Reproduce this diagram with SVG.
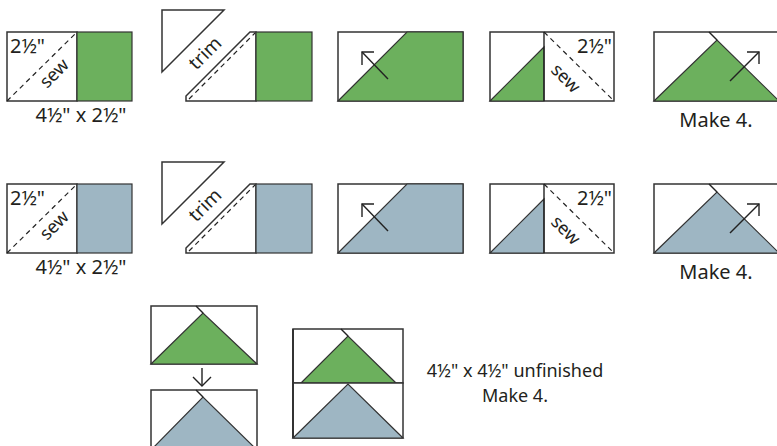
<svg xmlns="http://www.w3.org/2000/svg" width="777" height="446" viewBox="0 0 777 446">
<style>
.o{fill:#fff;stroke:#333;stroke-width:1.5}
.g{fill:#6cb05d;stroke:#333;stroke-width:1.2}
.b{fill:#9eb6c3;stroke:#333;stroke-width:1.2}
.ln{fill:none;stroke:#222;stroke-width:1.4}
.d{fill:none;stroke:#222;stroke-width:1.2;stroke-dasharray:5 4}
.t{font-family:"Noto Sans","Liberation Sans",Arial,sans-serif;fill:#231f20}
</style>
<rect width="777" height="446" fill="#fff"/>

<!-- ROW 1 (green) -->
<g id="r1-step1">
<rect class="o" x="7" y="32" width="70" height="69"/>
<rect class="g" x="77" y="32" width="55" height="69"/>
<line class="d" x1="7" y1="101" x2="77" y2="32"/>
<text class="t" x="10" y="53" font-size="20">2½"</text>
<text class="t" font-size="18" text-anchor="middle" transform="translate(55,74) rotate(-45)" y="5">sew</text>
<text class="t" x="81" y="122" font-size="20" text-anchor="middle">4½" x 2½"</text>
</g>
<g id="r1-step2">
<polygon class="o" points="162,10 224,10 162,72"/>
<text class="t" font-size="19" text-anchor="middle" transform="translate(206,54) rotate(-45)" y="5">trim</text>
<polygon class="o" points="186,101 186,96 250,32 256,32 256,101"/>
<line class="d" x1="189" y1="99" x2="255" y2="33"/>
<rect class="g" x="256" y="32" width="56" height="69"/>
</g>
<g id="r1-step3">
<rect class="o" x="338" y="32" width="125" height="69"/>
<polygon class="g" points="338,101 407,32 463,32 463,101"/>
<line class="ln" x1="388" y1="79" x2="362" y2="52"/>
<polyline class="ln" points="374,52 362,52 362,65"/>
</g>
<g id="r1-step4">
<rect class="o" x="490" y="32" width="124" height="69"/>
<polygon class="g" points="490,101 544,101 544,47"/>
<line class="ln" x1="544" y1="32" x2="544" y2="101"/>
<line class="d" x1="544" y1="32" x2="614" y2="101"/>
<text class="t" x="612" y="53" font-size="20" text-anchor="end">2½"</text>
<text class="t" font-size="18" text-anchor="middle" transform="translate(565,79) rotate(45)" y="5">sew</text>
</g>
<g id="r1-step5">
<rect class="o" x="654" y="32" width="125" height="69"/>
<polygon class="g" points="654,101 717,40 779,101"/>
<line class="ln" x1="709" y1="32" x2="717" y2="40"/>
<line class="ln" x1="730" y1="81" x2="759" y2="52"/>
<polyline class="ln" points="747,52 759,52 759,64"/>
<text class="t" x="716" y="127" font-size="20" text-anchor="middle">Make 4.</text>
</g>

<!-- ROW 2 (blue) -->
<g id="r2-step1">
<rect class="o" x="7" y="184" width="70" height="69"/>
<rect class="b" x="77" y="184" width="55" height="69"/>
<line class="d" x1="7" y1="253" x2="77" y2="184"/>
<text class="t" x="10" y="205" font-size="20">2½"</text>
<text class="t" font-size="18" text-anchor="middle" transform="translate(55,226) rotate(-45)" y="5">sew</text>
<text class="t" x="81" y="274" font-size="20" text-anchor="middle">4½" x 2½"</text>
</g>
<g id="r2-step2">
<polygon class="o" points="162,162 224,162 162,224"/>
<text class="t" font-size="19" text-anchor="middle" transform="translate(206,206) rotate(-45)" y="5">trim</text>
<polygon class="o" points="186,253 186,248 250,184 256,184 256,253"/>
<line class="d" x1="189" y1="251" x2="255" y2="185"/>
<rect class="b" x="256" y="184" width="56" height="69"/>
</g>
<g id="r2-step3">
<rect class="o" x="338" y="184" width="125" height="69"/>
<polygon class="b" points="338,253 407,184 463,184 463,253"/>
<line class="ln" x1="388" y1="231" x2="362" y2="204"/>
<polyline class="ln" points="374,204 362,204 362,217"/>
</g>
<g id="r2-step4">
<rect class="o" x="490" y="184" width="124" height="69"/>
<polygon class="b" points="490,253 544,253 544,199"/>
<line class="ln" x1="544" y1="184" x2="544" y2="253"/>
<line class="d" x1="544" y1="184" x2="614" y2="253"/>
<text class="t" x="612" y="205" font-size="20" text-anchor="end">2½"</text>
<text class="t" font-size="18" text-anchor="middle" transform="translate(565,231) rotate(45)" y="5">sew</text>
</g>
<g id="r2-step5">
<rect class="o" x="654" y="184" width="125" height="69"/>
<polygon class="b" points="654,253 717,192 779,253"/>
<line class="ln" x1="709" y1="184" x2="717" y2="192"/>
<line class="ln" x1="730" y1="233" x2="759" y2="204"/>
<polyline class="ln" points="747,204 759,204 759,216"/>
<text class="t" x="716" y="279" font-size="20" text-anchor="middle">Make 4.</text>
</g>

<!-- BOTTOM -->
<g id="flying-green">
<rect class="o" x="151" y="306" width="106" height="58"/>
<polygon class="g" points="151,364 203,313 257,364"/>
<line class="ln" x1="196" y1="306" x2="203" y2="313"/>
</g>
<g id="flying-blue">
<rect class="o" x="151" y="390" width="106" height="60"/>
<polygon class="b" points="151,450 203,397 257,450"/>
<line class="ln" x1="196" y1="390" x2="203" y2="397"/>
</g>
<g id="connectors">
<line class="ln" x1="202" y1="368" x2="202" y2="386"/>
<polyline class="ln" points="193,377 202,386 211,377"/>
</g>
<g id="finished-block">
<rect class="o" x="293" y="329" width="110" height="54"/>
<polygon class="g" points="301,383 348,336 396,383"/>
<line class="ln" x1="341" y1="329" x2="348" y2="336"/>
<rect class="o" x="293" y="383" width="110" height="55"/>
<polygon class="b" points="293,438 348,384 403,438"/>
<line x1="293" y1="329" x2="293" y2="438" stroke="#333" stroke-width="2"/>
</g>
<g id="caption">
<text class="t" x="515" y="377" font-size="18" text-anchor="middle">4½" x 4½" unfinished</text>
<text class="t" x="515" y="402" font-size="18" text-anchor="middle">Make 4.</text>
</g>
</svg>
